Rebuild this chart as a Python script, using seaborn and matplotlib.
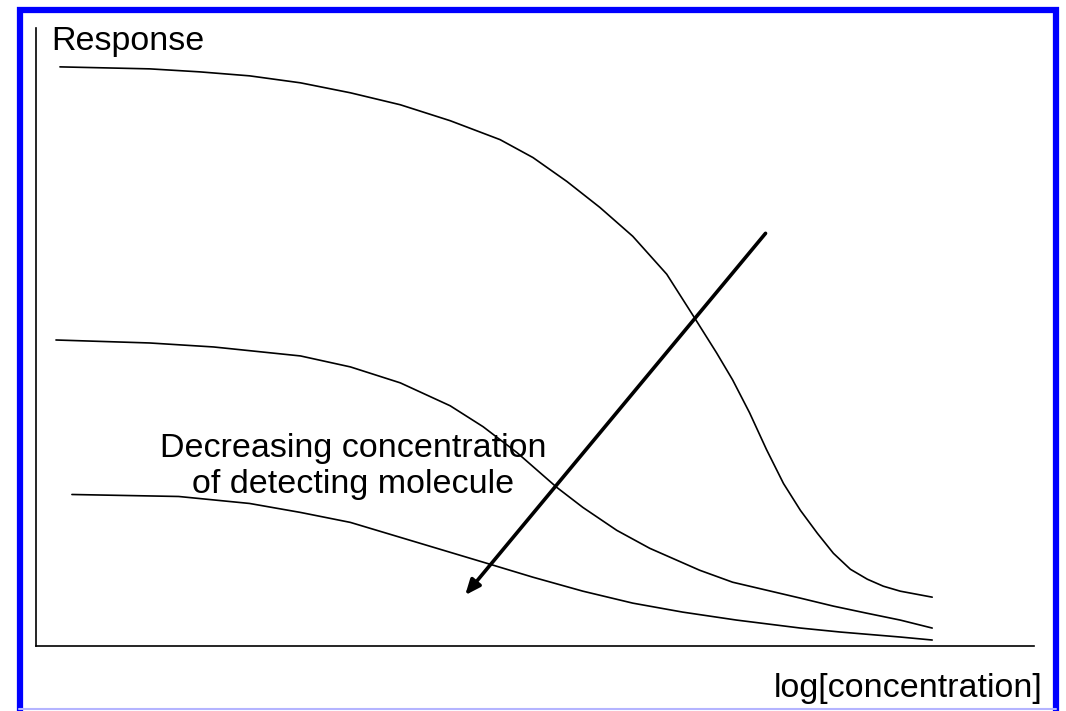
import seaborn as sns
import matplotlib.pyplot as plt
import pandas as pd
from matplotlib.patches import Rectangle
from matplotlib.lines import Line2D

# dose-response curves (x = log concentration, y = response)
high_x = [0.24, 1.14, 1.64, 2.14, 2.65, 3.15, 3.65, 4.15, 4.65, 4.98, 5.32, 5.65, 5.98, 6.32,
          6.60, 6.82, 6.98, 7.15, 7.32, 7.49, 7.66, 7.83, 7.99, 8.16, 8.33, 8.49, 8.66, 8.98]
high_y = [5.81, 5.79, 5.76, 5.72, 5.65, 5.55, 5.43, 5.27, 5.08, 4.90, 4.66, 4.40, 4.11, 3.73,
          3.29, 2.94, 2.67, 2.34, 1.97, 1.63, 1.36, 1.13, 0.93, 0.77, 0.67, 0.60, 0.55, 0.49]

mid_x = [0.20, 1.14, 1.78, 2.65, 3.15, 3.65, 4.15, 4.48, 4.82, 5.22, 5.48, 5.82, 6.15, 6.65,
         6.98, 7.32, 7.66, 7.99, 8.32, 8.66, 8.98]
mid_y = [3.07, 3.04, 3.00, 2.91, 2.80, 2.64, 2.41, 2.20, 1.94, 1.59, 1.39, 1.16, 0.98, 0.76,
         0.64, 0.56, 0.48, 0.40, 0.33, 0.26, 0.18]

low_x = [0.36, 1.43, 2.14, 2.65, 3.15, 3.65, 4.15, 4.55, 4.98, 5.48, 5.98, 6.48, 7.02, 7.66,
         8.06, 8.66, 8.98]
low_y = [1.52, 1.50, 1.43, 1.34, 1.24, 1.09, 0.94, 0.82, 0.69, 0.55, 0.43, 0.34, 0.26, 0.18,
         0.14, 0.09, 0.06]

arrow_start = (7.31, 4.14)
arrow_end = (4.30, 0.51)

df = pd.concat([
    pd.DataFrame({'x': high_x, 'y': high_y, 'curve': 'high'}),
    pd.DataFrame({'x': mid_x, 'y': mid_y, 'curve': 'mid'}),
    pd.DataFrame({'x': low_x, 'y': low_y, 'curve': 'low'}),
])

sns.set_style("white")
plt.rcParams['font.family'] = ['Liberation Sans', 'DejaVu Sans']
plt.rcParams['text.color'] = 'black'

fig = plt.figure(figsize=(10.66, 7.11), dpi=100)
ax = fig.add_axes([36 / 1066, 65 / 711, 998 / 1066, 618 / 711])

sns.lineplot(data=df, x='x', y='y', hue='curve', units='curve', estimator=None,
             palette=['black'] * 3, linewidth=1.2, legend=False, ax=ax, sort=False)

ax.annotate('', xy=arrow_end, xytext=arrow_start,
            arrowprops=dict(arrowstyle='-|>,head_length=0.9,head_width=0.38',
                            color='black', lw=2.6, shrinkA=0, shrinkB=0))

ax.set_xlim(0, 10)
ax.set_ylim(0, 6.2)
ax.set_xticks([])
ax.set_yticks([])
ax.set_xlabel('')
ax.set_ylabel('')
sns.despine(ax=ax)
for side in ['left', 'bottom']:
    ax.spines[side].set_color('black')
    ax.spines[side].set_linewidth(1.2)

ax.text(0.15, 5.98, 'Response', fontsize=24.5, va='baseline', ha='left')
ax.text(3.18, 1.90, 'Decreasing concentration', fontsize=24.5, ha='center', va='baseline')
ax.text(3.18, 1.53, 'of detecting molecule', fontsize=24.5, ha='center', va='baseline')
ax.text(10.09, -0.51, 'log[concentration]', fontsize=24.5, ha='right', va='baseline',
        clip_on=False)

# blue frame round the picture
fig.patches.append(Rectangle((19.5 / 1066, -0.05), 1036.5 / 1066, 1.05 - 9.5 / 711,
                             transform=fig.transFigure, fill=False,
                             edgecolor='#0000ff', linewidth=4.5))
fig.lines.append(Line2D([19 / 1066, 1056 / 1066], [2.5 / 711, 2.5 / 711],
                        transform=fig.transFigure, color='#b4b4ff', linewidth=1.5))

fig.savefig('out.png', dpi=100)
